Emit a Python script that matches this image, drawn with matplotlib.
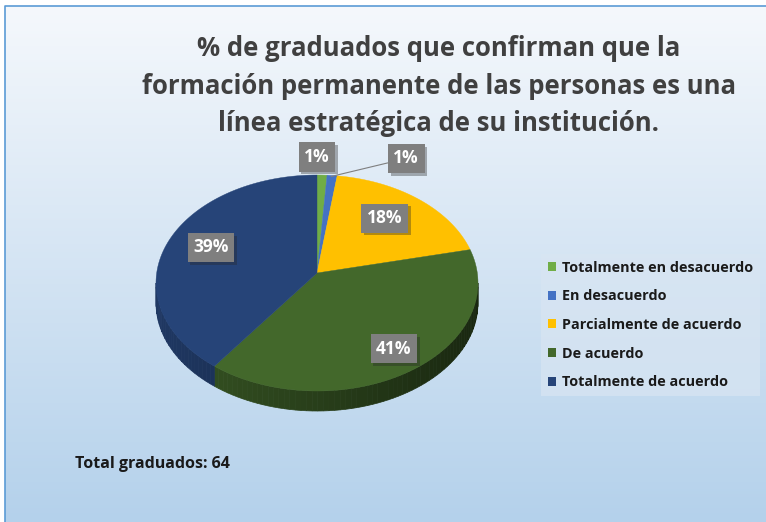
import numpy as np
import matplotlib.pyplot as plt
from matplotlib.patches import Polygon, Patch
from matplotlib import patheffects as pe
from matplotlib.colors import to_rgb

# data
categories = ['Totalmente en desacuerdo', 'En desacuerdo', 'Parcialmente de acuerdo',
              'De acuerdo', 'Totalmente de acuerdo']
percentages = [1, 1, 18, 41, 39]
colors = ['#70ad47', '#4472c4', '#ffc000', '#43682b', '#264478']
title = ('% de graduados que confirman que la\n'
         'formación permanente de las personas es una\n'
         'línea estratégica de su institución.')
total_graduados = 64

plt.rcParams['font.family'] = ['Open Sans', 'DejaVu Sans']

W, H = 766, 522
fig = plt.figure(figsize=(W / 100, H / 100), dpi=100)
ax = fig.add_axes([0, 0, 1, 1])

# background gradient + border
top = np.array(to_rgb('#f5f8fc'))
bot = np.array(to_rgb('#b4d1eb'))
t = np.linspace(0, 1, 256)[:, None]
grad = (top * (1 - t) + bot * t)[:, None, :]
ax.imshow(grad, extent=[5, W, H, 6], aspect='auto', zorder=0)
ax.plot([5, 5, W], [H, 6, 6], color='#5b9bd5', lw=1.2, zorder=1)

# 3D pie geometry (pixels)
cx, cy, rx, ry, apex_y, depth = 317, 283, 161, 108, 273, 20
fr = np.array(percentages) / sum(percentages)
edges = 90 - 360 * np.concatenate([[0], np.cumsum(fr)])


def arc(a0, a1, n=100):
    th = np.radians(np.linspace(a0, a1, n))
    return cx + rx * np.cos(th), cy - ry * np.sin(th)


# side walls (front half only)
for i in range(len(percentages)):
    a0, a1 = edges[i], edges[i + 1]
    base = np.array(to_rgb(colors[i]))
    for k in (-360, 0, 360):
        hi = min(a0 + k, 0)
        lo = max(a1 + k, -180)
        if hi <= lo:
            continue
        steps = np.linspace(hi, lo, int((hi - lo) / 2) + 2)
        for s0, s1 in zip(steps[:-1], steps[1:]):
            xs, ys = arc(s0, s1, 6)
            pts = np.vstack([np.column_stack([xs, ys]),
                             np.column_stack([xs[::-1], ys[::-1] + depth])])
            xm = xs.mean()
            f = 0.6 - 0.22 * (xm - cx) / rx
            ax.add_patch(Polygon(pts, closed=True, fc=base * f, ec=base * f,
                                 lw=0.5, zorder=2))

# top faces
for i in range(len(percentages)):
    xs, ys = arc(edges[i], edges[i + 1])
    pts = np.vstack([[cx, apex_y], np.column_stack([xs, ys])])
    ax.add_patch(Polygon(pts, closed=True, fc=colors[i], ec=colors[i], lw=0.3, zorder=3))

# data labels
box = dict(boxstyle='square,pad=0.32', fc='#7f7f7f', ec='none')
small_offsets = [(-5, -18), (74, -17)]
label_r = [0, 0, 0.66, 0.85, 0.7]
j = 0
for i, p in enumerate(percentages):
    mid = np.radians((edges[i] + edges[i + 1]) / 2)
    if p < 5:
        ax_, ay_ = cx + rx * np.cos(mid), cy - ry * np.sin(mid)
        dx, dy = small_offsets[j]
        j += 1
        txt = ax.annotate(f'{p}%', xy=(ax_ - 1, ay_ + 1), xytext=(ax_ + dx, ay_ + dy),
                          textcoords='data', ha='center', va='center', color='white',
                          fontsize=12.5, weight='bold', bbox=box, zorder=5,
                          arrowprops=dict(arrowstyle='-', color='#7f7f7f', lw=0.8,
                                          shrinkA=0, shrinkB=0) if dx > 20 else None)
    else:
        lx = cx + label_r[i] * rx * np.cos(mid)
        ly = apex_y - label_r[i] * ry * np.sin(mid)
        txt = ax.text(lx, ly, f'{p}%', ha='center', va='center', color='white',
                      fontsize=12.5, weight='bold', bbox=box, zorder=5)
    txt.get_bbox_patch().set_path_effects([pe.SimplePatchShadow(offset=(2, -2), alpha=0.35),
                                           pe.Normal()])

ax.set_xlim(0, W)
ax.set_ylim(H, 0)
ax.axis('off')

# legend
handles = [Patch(facecolor=c, edgecolor='none') for c in colors]
leg = ax.legend(handles, categories, loc='upper left',
                bbox_to_anchor=(541 / W, 1 - 254 / H),
                prop=dict(weight='bold', size=10.4), frameon=True, fancybox=False,
                facecolor='#d8e5f2', edgecolor='none', framealpha=0.7,
                handlelength=0.6, handleheight=0.6, handletextpad=0.4,
                labelspacing=1.02, borderpad=0.45, borderaxespad=0)
for tx in leg.get_texts():
    tx.set_color('#1a1a1a')

fig.text(439 / W, 1 - 86 / H, title, ha='center', va='center', fontsize=18.5,
         weight='bold', color='#404040', linespacing=1.5)
ax.text(75, 464, f'Total graduados: {total_graduados}', ha='left', va='center',
        fontsize=11.5, weight='bold', color='#1a1a1a')

fig.savefig('out.png', dpi=100)
